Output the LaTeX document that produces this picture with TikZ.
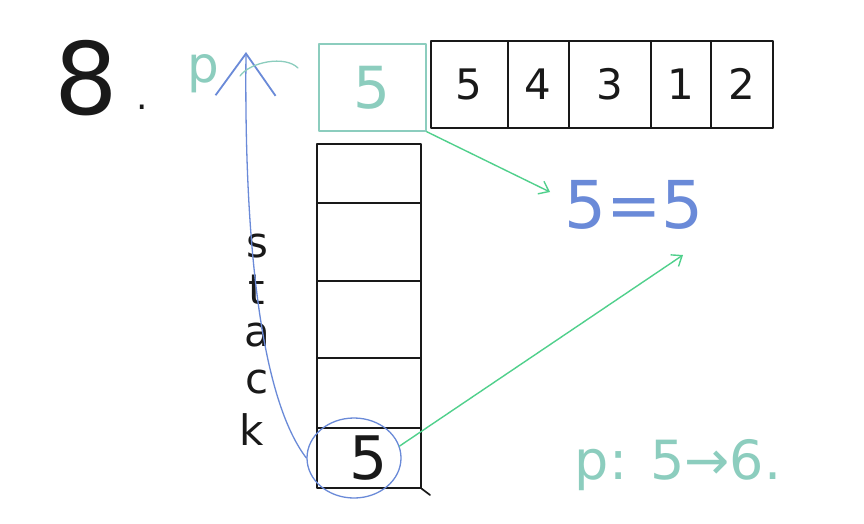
\documentclass[tikz,border=0pt]{standalone}
\usepackage{fontspec}
\setmainfont{DejaVu Sans}
\usetikzlibrary{arrows.meta,shapes.geometric}
\definecolor{tealc}{RGB}{140,205,190}
\definecolor{bluec}{RGB}{106,138,216}
\definecolor{greenc}{RGB}{80,208,140}
\definecolor{inkc}{RGB}{25,25,25}
\tikzset{
  hand/.style={line width=1.7pt, line cap=round, line join=round},
  cellbox/.style={draw=inkc, hand, inner sep=0pt, anchor=north west},
  arrdig/.style={font=\fontsize{42}{42}\selectfont, text=inkc},
  stackletter/.style={font=\fontsize{42}{42}\selectfont, text=inkc, inner sep=0pt},
  greenarrow/.style={draw=greenc, line width=1.4pt, line cap=round, -{Straight Barb[length=9pt,width=14pt]}},
}
\begin{document}
\begin{tikzpicture}[x=1pt,y=-1pt]
\useasboundingbox (0,0) rectangle (864,523);
\fill[white] (0,0) rectangle (864,523);

% title
\node[font=\fontsize{100}{100}\selectfont, text=inkc] (eight) at (86,78) {8};
\node[font=\fontsize{36}{36}\selectfont, text=inkc, inner sep=0pt] (dot) at (142,107) {.};

% p pointer
\node[font=\fontsize{50}{50}\selectfont, text=tealc] (p) at (203,74) {p};

% teal box with 5
\node[draw=tealc, hand, minimum width=107pt, minimum height=87pt, anchor=north west,
      font=\fontsize{58}{58}\selectfont, text=tealc, inner sep=0pt] (pbox) at (318,43) {5};

% array
\node[cellbox, minimum width=77pt, minimum height=87pt, arrdig] (a1) at (430,40) {5};
\node[cellbox, minimum width=61pt, minimum height=87pt, arrdig] (a2) at (507,40) {4};
\node[cellbox, minimum width=82pt, minimum height=87pt, arrdig] (a3) at (568,40) {3};
\node[cellbox, minimum width=60pt, minimum height=87pt, arrdig] (a4) at (650,40) {1};
\node[cellbox, minimum width=62pt, minimum height=87pt, arrdig] (a5) at (710,40) {2};

% stack
\node[cellbox, minimum width=104pt, minimum height=59pt] (s1) at (316,143) {};
\node[cellbox, minimum width=104pt, minimum height=78pt] (s2) at (316,202) {};
\node[cellbox, minimum width=104pt, minimum height=77pt] (s3) at (316,280) {};
\node[cellbox, minimum width=104pt, minimum height=70pt] (s4) at (316,357) {};
\node[cellbox, minimum width=104pt, minimum height=60pt,
      font=\fontsize{60}{60}\selectfont, text=inkc] (s5) at (316,427) {5};
\coordinate (tail) at (430,495);
\draw[inkc, hand] (s5.south east) -- (tail);

% stack label
\node[stackletter] (ls) at (257,246) {s};
\node[stackletter] (lt) at (257,290) {t};
\node[stackletter] (la) at (257,335) {a};
\node[stackletter] (lc) at (257,382) {c};
\node[stackletter] (lk) at (252,430) {k};

% blue circle around bottom 5
\node[draw=bluec, line width=1.3pt, ellipse, minimum width=94pt, minimum height=80pt, inner sep=0pt] (circ) at (354,458) {};

% blue curve up to the pointer
\coordinate (caret) at (246,52);
\draw[bluec, line width=1.3pt, line cap=round, -{Straight Barb[length=42pt,width=60pt,line width=1.8pt]}]
  (circ.west) .. controls (262,400) and (244,250) .. (caret);

% teal squiggle near p
\coordinate (sq1) at (240,76);
\coordinate (sq2) at (298,68);
\draw[tealc, line width=1.3pt, line cap=round] (sq1) .. controls (250,62) and (285,55) .. (sq2);

% equation
\node[font=\fontsize{66}{66}\selectfont, text=bluec] (eq) at (634,205) {5=5};

% green arrows
\coordinate (e1) at (550,192);
\draw[greenarrow] (pbox.south east) -- (e1);
\coordinate (e2) at (683,255);
\draw[greenarrow] (circ.east) ++(-2,-12) coordinate (c2) -- (e2);

% note
\node[font=\fontsize{54}{54}\selectfont, text=tealc] (note) at (678,465) {p: 5→6.};
\end{tikzpicture}
\end{document}
